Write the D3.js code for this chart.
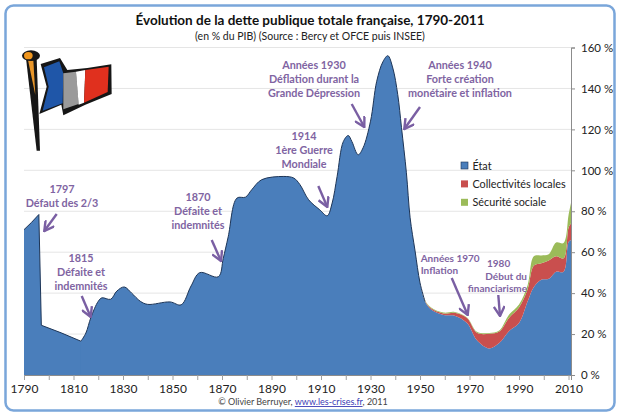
<!DOCTYPE html>
<html>
<head>
<meta charset="utf-8">
<script src="https://cdn.jsdelivr.net/npm/d3@7"></script>
<style>
  html, body { margin: 0; padding: 0; background: #fff; }
  text { font-family: Lato, "Open Sans", sans-serif; }
</style>
</head>
<body>
<svg id="chart" width="620" height="418"></svg>
<script>
var years = [1790, 1793, 1796, 1797, 1805, 1813, 1815, 1817, 1820, 1821.5, 1825, 1827.5, 1830.5, 1833.5, 1837, 1840, 1849,
  1853.5, 1857.5, 1861, 1868.5, 1870.5, 1872.5, 1876, 1879.5, 1882, 1886, 1895, 1899, 1901.5, 1905, 1909.5, 1912.5, 1914.5,
  1916.5, 1919, 1921, 1922.5, 1925, 1927, 1930, 1932.5, 1935, 1937, 1939, 1941, 1942.5, 1944.5, 1946, 1948, 1950,
  1952, 1954.5, 1959.5, 1964, 1969, 1973, 1978, 1982, 1986, 1990, 1993.5, 1996, 1999, 2002, 2005, 2008, 2010, 2011];

var etat = [71, 74.5, 78.4, 24.3, 20.6, 16.5, 20.5, 28, 36, 37.7, 37, 41, 43, 40, 36, 34.5, 35.7,
  34.3, 43.5, 50, 48, 57, 67.5, 86.4, 86.9, 90.5, 95.4, 97, 96.2, 93, 85.6, 80.7, 77.8, 84,
  97, 114, 117, 114, 107.6, 111, 124, 143.5, 153, 156, 150, 137, 121, 98.8, 76.8, 60.6, 45,
  36, 32, 29.3, 29, 25.4, 17, 13, 15.6, 21.5, 25.4, 36, 43, 46.5, 47, 50.5, 50.5, 65, 66];

var collectivites = [0, 0, 0, 0, 0, 0, 0, 0, 0, 0, 0, 0, 0, 0, 0, 0, 0,
  0, 0, 0, 0, 0, 0, 0, 0, 0, 0, 0, 0, 0, 0, 0, 0, 0,
  0, 0, 0, 0, 0, 0, 0, 0, 0, 0, 0, 0, 0, 0, 0, 0, 0,
  0.3, 0.6, 0.8, 1.4, 2.4, 3.6, 7.1, 5.6, 6.5, 7.6, 6, 10.5, 8.1, 9, 7.5, 6.5, 7, 8];

var securite = [0, 0, 0, 0, 0, 0, 0, 0, 0, 0, 0, 0, 0, 0, 0, 0, 0,
  0, 0, 0, 0, 0, 0, 0, 0, 0, 0, 0, 0, 0, 0, 0, 0, 0,
  0, 0, 0, 0, 0, 0, 0, 0, 0, 0, 0, 0, 0, 0, 0, 0, 0,
  0.2, 0.4, 0.4, 0.4, 0.3, 0.5, 0.4, 0.5, 1.5, 1.5, 2, 4.5, 3.8, 3, 6.7, 7.5, 6, 10];

var legendLabels = ["État", "Collectivités locales", "Sécurité sociale"];
var colors = ["#4a7ebb", "#c94f4e", "#9bbb59"];
var yTicks = [0, 20, 40, 60, 80, 100, 120, 140, 160];
var xTicks = [1790, 1800, 1810, 1820, 1830, 1840, 1850, 1860, 1870, 1880, 1890, 1900, 1910, 1920, 1930, 1940, 1950, 1960, 1970, 1980, 1990, 2000, 2010];

var svg = d3.select("#chart");
var x = d3.scaleLinear().domain([1790, 2011]).range([24, 571]);
var y = d3.scaleLinear().domain([0, 160]).range([375, 47.5]);

// frame
svg.append("rect").attr("x", 5.5).attr("y", 5.5).attr("width", 609).attr("height", 405).attr("rx", 8)
  .attr("fill", "#fff").attr("stroke", "#7aa6da").attr("stroke-width", 2.5);

// grid
svg.append("g").selectAll("line").data(yTicks.slice(1)).enter().append("line")
  .attr("x1", x(1790)).attr("x2", x(2011))
  .attr("y1", (d) => y(d)).attr("y2", (d) => y(d))
  .attr("stroke", "#dedede").attr("stroke-width", 0.8);

// stacked areas, the part up to 1813 is straight (sharp drop of 1797), the rest is smoothed
var rows = years.map((yr, i) => ({ year: yr, etat: etat[i], local: collectivites[i], social: securite[i] }));
var series = d3.stack().keys(["etat", "local", "social"])(rows);
var pieces = [
  { from: 0, to: 6, curve: d3.curveLinear },
  { from: 5, to: years.length, curve: d3.curveCatmullRom.alpha(0.5) }
];

// blue patch under the join of the two pieces, hides the antialiased seam
svg.append("rect").attr("x", x(1810)).attr("width", x(1816) - x(1810))
  .attr("y", y(16)).attr("height", y(0) - y(16)).attr("fill", colors[0]);

pieces.forEach((p) => {
  var area = d3.area()
    .x((d) => x(d.data.year))
    .y0((d) => y(d[0]))
    .y1((d) => y(d[1]))
    .curve(p.curve);

  svg.append("g").selectAll("path").data(series).enter().append("path")
    .attr("d", (s) => area(s.slice(p.from, p.to)))
    .attr("fill", (d, i) => colors[i]);

  // dark outline on the old part of the curve
  var outline = d3.line()
    .x((d) => x(d.year))
    .y((d) => y(d.etat))
    .curve(p.curve);
  svg.append("path").datum(rows.slice(p.from, p.to).filter((d) => d.year <= 1952))
    .attr("d", outline).attr("fill", "none").attr("stroke", "#1d3557").attr("stroke-width", 1);
});

// axes
var yAxis = d3.axisRight(y).tickValues(yTicks).tickSize(4).tickPadding(6).tickFormat((d) => d + " %");
var gy = svg.append("g").attr("transform", "translate(" + x(2011) + ",0)").call(yAxis);
gy.select(".domain").attr("stroke", "#8c8c8c");
gy.selectAll(".tick line").attr("stroke", "#8c8c8c");
gy.selectAll("text").attr("font-size", 11.5).attr("fill", "#222");

var xAxis = d3.axisBottom(x).tickValues(xTicks).tickSize(5).tickPadding(4)
  .tickFormat((d) => ((d - 1790) % 20 === 0 ? d : ""));
var gx = svg.append("g").attr("transform", "translate(0," + y(0) + ")").call(xAxis);
gx.select(".domain").attr("stroke", "#8c8c8c");
gx.selectAll(".tick line").attr("stroke", "#a0a0a0");
gx.selectAll("text").attr("font-size", 12).attr("fill", "#222");

// titles
svg.append("text").attr("x", 310).attr("y", 25).attr("text-anchor", "middle")
  .attr("font-size", 13.5).attr("font-weight", "bold").attr("fill", "#111")
  .text("Évolution de la dette publique totale française, 1790-2011");
svg.append("text").attr("x", 310).attr("y", 40).attr("text-anchor", "middle")
  .attr("font-size", 10.5).attr("fill", "#222")
  .text("(en % du PIB) (Source : Bercy et OFCE puis INSEE)");

var footer = svg.append("text").attr("x", 303).attr("y", 405).attr("text-anchor", "middle")
  .attr("font-size", 9).attr("fill", "#444");
footer.append("tspan").text("© Olivier Berruyer, ");
footer.append("tspan").attr("fill", "#3b3bb5").attr("text-decoration", "underline").text("www.les-crises.fr");
footer.append("tspan").text(",  2011");

// legend
var legend = svg.append("g").selectAll("g").data(legendLabels).enter().append("g")
  .attr("transform", (d, i) => "translate(461," + (162 + i * 18.4) + ")");
legend.append("rect").attr("width", 7).attr("height", 7)
  .attr("fill", (d, i) => colors[i])
  .attr("stroke", (d, i) => (i === 0 ? "#1d3557" : "none")).attr("stroke-width", 0.6);
legend.append("text").attr("x", 11.5).attr("y", 7.5)
  .attr("font-size", 10.8).attr("fill", "#222").text((d) => d);

// annotations
var notes = [
  { x: 62, y: [189, 203], anchor: "middle", lines: ["1797", "Défaut des 2/3"], arrow: [56.7, 214, 44.3, 231] },
  { x: 81, y: [258, 272, 286], anchor: "middle", lines: ["1815", "Défaite et", "indemnités"], arrow: [81.7, 296, 90.7, 317] },
  { x: 198, y: [197, 211, 225], anchor: "middle", lines: ["1870", "Défaite et", "indemnités"], arrow: [211.7, 240, 221, 261] },
  { x: 304, y: [136, 150, 164], anchor: "middle", lines: ["1914", "1ère Guerre", "Mondiale"], arrow: [318.3, 186, 327.3, 207] },
  { x: 314, y: [65, 79, 93], anchor: "middle", lines: ["Années 1930", "Déflation durant la", "Grande Dépression"], arrow: [351.7, 104, 364.3, 127] },
  { x: 460, y: [65, 79, 93], anchor: "middle", lines: ["Années 1940", "Forte création", "monétaire et inflation"], arrow: [420, 107, 404.3, 129] },
  { x: 420.7, y: [258, 270], anchor: "start", size: 10, lines: ["Années 1970", "Inflation"], arrow: [451.7, 278, 467.7, 315] },
  { x: 487, y: [263], anchor: "start", size: 10, lines: ["1980"], arrow: [498.3, 295, 500, 316] },
  { x: 527, y: [276, 288], anchor: "end", size: 10, lines: ["Début du", "financiarisme"] }
];

svg.append("defs").append("marker").attr("id", "head")
  .attr("viewBox", "0 0 10 10").attr("refX", 9).attr("refY", 5)
  .attr("markerWidth", 5).attr("markerHeight", 5).attr("orient", "auto")
  .append("path").attr("d", "M1,0.5L9,5L1,9.5").attr("fill", "none").attr("stroke", "#7a5fa3").attr("stroke-width", 2);

notes.forEach((n) => {
  n.lines.forEach((line, i) => {
    svg.append("text").attr("x", n.x).attr("y", n.y[i]).attr("dy", "0.35em")
      .attr("text-anchor", n.anchor).attr("font-size", n.size || 10.8).attr("font-weight", "bold")
      .attr("fill", "#8064a2").text(line);
  });
  if (n.arrow) {
    svg.append("line").attr("x1", n.arrow[0]).attr("y1", n.arrow[1]).attr("x2", n.arrow[2]).attr("y2", n.arrow[3])
      .attr("stroke", "#7a5fa3").attr("stroke-width", 2.4).attr("marker-end", "url(#head)");
  }
});

// flag, drawn in the coordinates of a 3x crop
var flag = svg.append("g").attr("transform", "translate(10,40) scale(0.3333)");
flag.append("path").attr("d", "M92,72L150,54L172,90L232,84L304,73L305,162L226,194L160,226L154,194L88,222L110,140Z").attr("fill", "#161616");
flag.append("path").attr("d", "M102,82L148,64L160,100L158,190L98,212L116,140Z").attr("fill", "#1f56a8");
flag.append("path").attr("d", "M160,100L198,95L206,192L160,208Z").attr("fill", "#9a9a9a");
flag.append("path").attr("d", "M198,95L226,90L222,188L206,194Z").attr("fill", "#fff");
flag.append("path").attr("d", "M226,90L296,80L293,156L222,188Z").attr("fill", "#e0301e");
flag.append("path").attr("d", "M48,55L80,55L90,332L80,332Z").attr("fill", "#161616");
flag.append("path").attr("d", "M54,60L70,60L76,165Z").attr("fill", "#e8962a");
flag.append("ellipse").attr("cx", 63).attr("cy", 47).attr("rx", 27).attr("ry", 16).attr("fill", "#161616");
flag.append("ellipse").attr("cx", 55).attr("cy", 47).attr("rx", 13).attr("ry", 11).attr("fill", "#f0961e");
</script>
</body>
</html>
